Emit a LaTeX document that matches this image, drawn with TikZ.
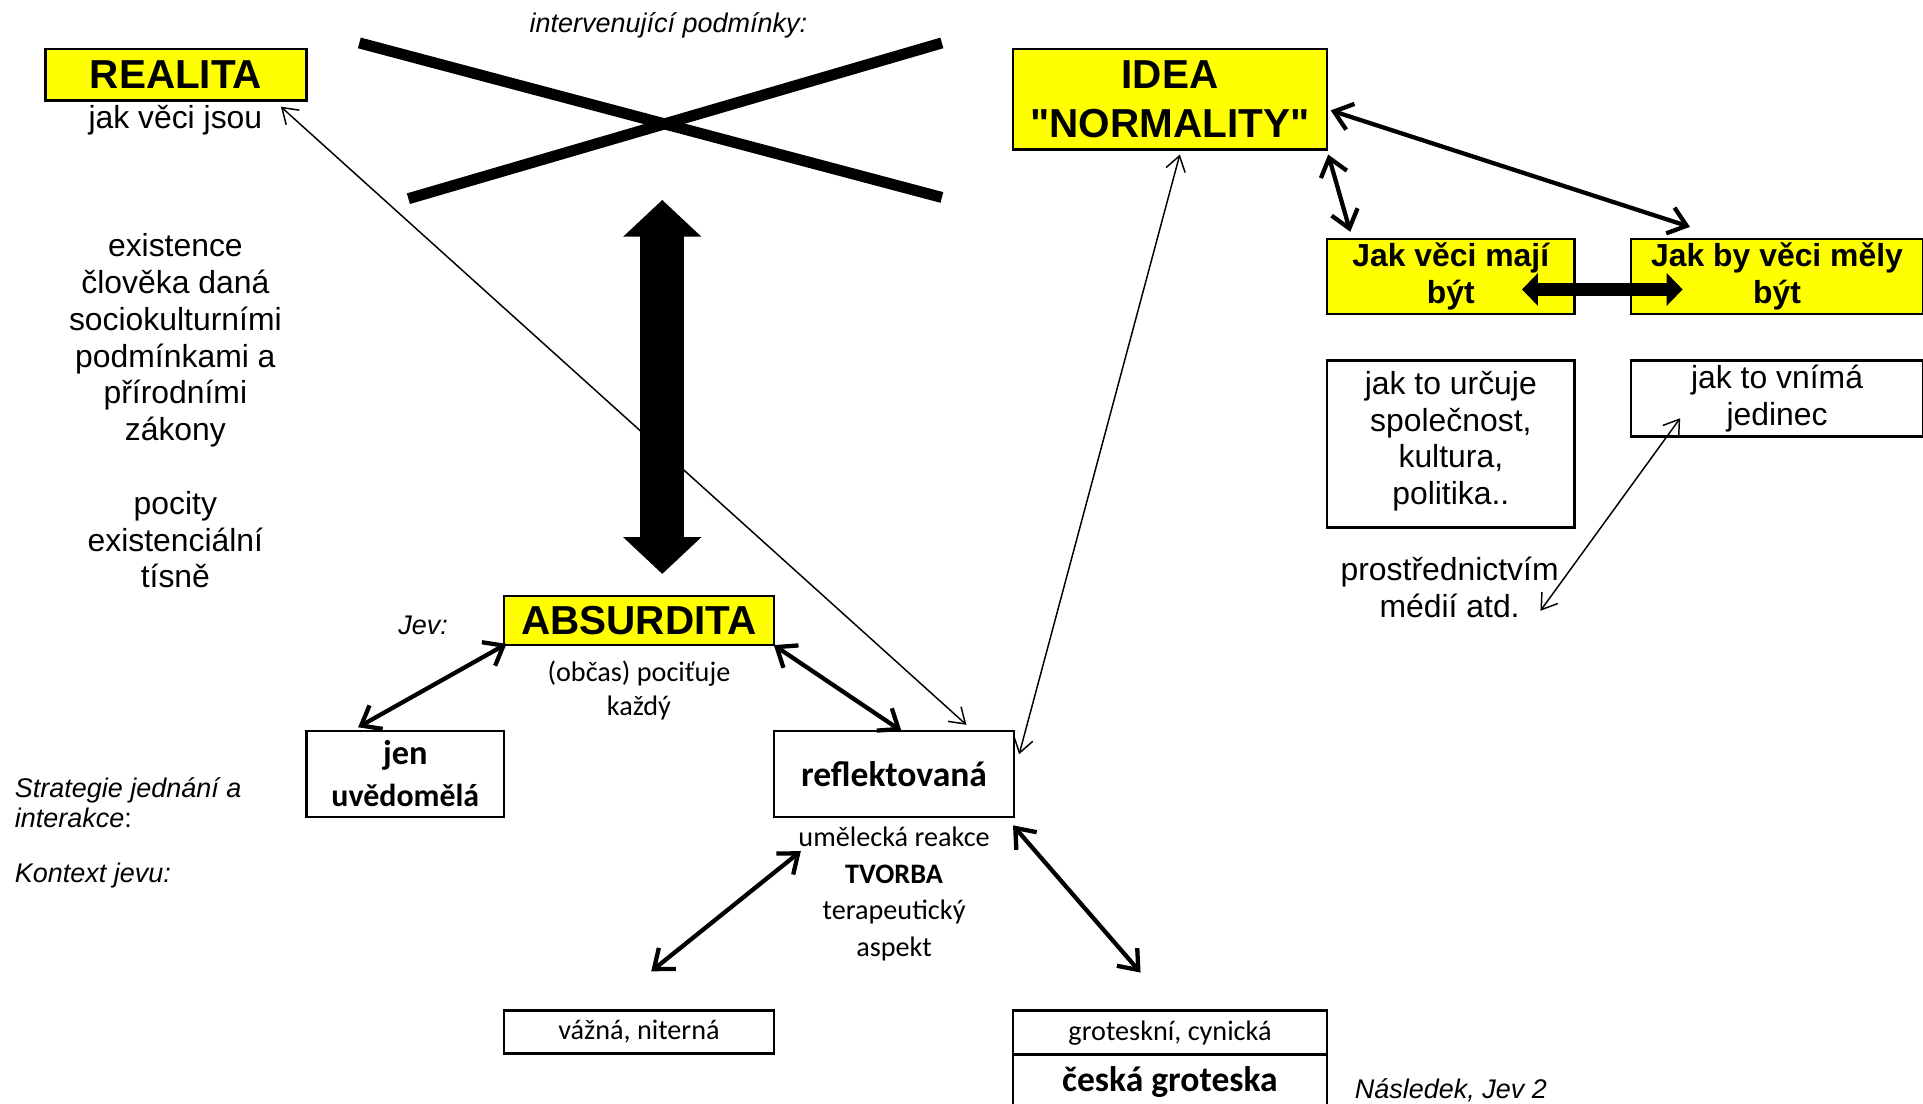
\documentclass[tikz,border=0pt]{standalone}
\usepackage{fontspec}
\setmainfont{Liberation Sans}[Ligatures=TeXOff]
\newfontfamily\calfont{Carlito}
\usetikzlibrary{arrows.meta,positioning,calc}
\definecolor{absYellow}{HTML}{FFFF00}
\newcommand{\fsz}[2]{\fontsize{#1}{#2}\selectfont}

\begin{document}
\begin{tikzpicture}[x=1pt, y=-1pt,
    every node/.style={inner sep=0pt, align=center},
    ybox/.style={draw, line width=2pt, fill=absYellow, font=\bfseries\fsz{33}{40}},
    wbox/.style={draw, line width=2pt, fill=white},
    txt/.style={font=\fsz{26}{30}},
    itxt/.style={font=\itshape\fsz{22}{25}},
    ctxt/.style={font=\calfont\fsz{23}{29}},
    thinarr/.style={{Straight Barb[length=12pt,width=16pt]}-{Straight Barb[length=12pt,width=16pt]}, line width=1.2pt},
    thickarr/.style={{Straight Barb[length=14pt,width=22pt]}-{Straight Barb[length=14pt,width=22pt]}, line width=3.5pt},
  ]
  \useasboundingbox (0,0) rectangle (1568,900);

  % top row
  \node[ybox, minimum width=213pt, minimum height=42pt] (realita) at (143.5,61) {REALITA};
  \node[txt] (jsou) at (143,98) {jak věci jsou};
  \node[itxt] (interv) at (545,21) {intervenující podmínky:};
  \node[ybox, minimum width=256pt, minimum height=82pt] (idea) at (954,81) {IDEA\\"NORMALITY"};

  \coordinate (xa) at (293,35);
  \coordinate (xb) at (768,161);
  \coordinate (xc) at (333,162);
  \coordinate (xd) at (768,35);
  \draw[line width=9pt] (xa) -- (xb);
  \draw[line width=9pt] (xc) -- (xd);

  \node[txt] (exist) at (143,335) {existence\\člověka daná\\sociokulturními\\podmínkami a\\přírodními\\zákony\\[30pt]pocity\\existenciální\\tísně};

  % right side
  \node[ybox, font=\bfseries\fsz{26}{30}, minimum width=202pt, minimum height=61pt] (jakmaji) at (1183,225.5) {Jak věci mají\\být};
  \node[ybox, font=\bfseries\fsz{26}{30}, minimum width=238pt, minimum height=61pt] (jakby) at (1449,225.5) {Jak by věci měly\\být};
  \node[wbox, txt, minimum width=202pt, minimum height=136pt] (urcuje) at (1183,362) {jak to určuje\\společnost,\\kultura,\\politika..\\[-20pt]};
  \node[wbox, txt, minimum width=238pt, minimum height=62pt] (vnima) at (1449,325) {jak to vnímá\\jedinec};
  \node[txt] (prostred) at (1182,479) {prostřednictvím\\médií atd.};

  % middle
  \node[itxt] (jev) at (345,510) {Jev:};
  \node[ybox, minimum width=220pt, minimum height=40pt] (absurd) at (521,506) {ABSURDITA};
  \node[ctxt, font=\calfont\fsz{23}{28}] (obcas) at (521,563) {(občas) pociťuje\\každý};
  \node[wbox, font=\calfont\bfseries\fsz{26}{34}, minimum width=161pt, minimum height=70pt] (jen) at (330.5,631) {{\fsz{28}{34}jen}\\uvědomělá};
  \node[wbox, font=\calfont\bfseries\fsz{29}{34}, minimum width=196pt, minimum height=70pt] (reflekt) at (729,631) {reflektovaná};
  \node[ctxt, font=\calfont\fsz{23}{30}] (umel) at (729,729) {umělecká reakce\\\textbf{TVORBA}\\terapeutický\\aspekt};

  \node[itxt, anchor=west, align=left] (strat) at (12,654.5) {Strategie jednání a\\interakce{\upshape :}};
  \node[itxt, anchor=west] (kontext) at (12,714) {Kontext jevu:};

  % bottom
  \node[wbox, ctxt, minimum width=220pt, minimum height=35pt] (vazna) at (521,841.5) {vážná, niterná};
  \node[wbox, ctxt, minimum width=256pt, minimum height=36pt] (grot) at (954,842) {groteskní, cynická};
  \node[wbox, font=\calfont\bfseries\fsz{29}{34}, minimum width=256pt, minimum height=44pt] (ceska) at (954,882) {česká groteska};
  \node[itxt] (nasl) at (1183,889) {Následek, Jev 2};

  % connectors
  \coordinate (bigtop) at (540,163);
  \coordinate (bigbot) at (540,468);
  \draw[line width=36pt, {Triangle[length=30pt,width=62pt]}-{Triangle[length=30pt,width=62pt]}] (bigtop) -- (bigbot);
  \draw[line width=11pt, {Triangle[length=13pt,width=26pt]}-{Triangle[length=13pt,width=26pt]}]
    ([xshift=-44pt,yshift=-10.5pt]jakmaji.east) -- ([xshift=43pt,yshift=-10.5pt]jakby.west);

  \draw[thinarr] ([xshift=-22pt,yshift=-4pt]realita.south east) -- ([xshift=-40pt,yshift=4pt]reflekt.north east);
  \draw[thinarr] ([xshift=8pt,yshift=-3pt]idea.south) -- ([xshift=3pt,yshift=16pt]reflekt.east);
  \draw[thickarr] ([xshift=2pt,yshift=-9pt]idea.east) -- ([xshift=-71pt,yshift=9pt]jakby.north);
  \draw[thickarr] ([yshift=-3pt]idea.south east) -- ([xshift=20pt,yshift=5pt]jakmaji.north west);
  \draw[thinarr] ([xshift=-79pt,yshift=16pt]vnima.south) -- ([xshift=-15pt,yshift=-19pt]prostred.east);
  \draw[thickarr] ([xshift=3pt,yshift=2pt]absurd.south west) -- ([xshift=-38.5pt,yshift=2pt]jen.north);
  \draw[thickarr] ([xshift=-1pt,yshift=1pt]absurd.south east) -- ([xshift=6pt,yshift=-1pt]reflekt.north);
  \draw[thickarr] ([xshift=-76pt,yshift=-27pt]reflekt.south) -- ([xshift=10pt,yshift=31pt]vazna.north);
  \draw[thickarr] ([xshift=-2pt,yshift=-6pt]reflekt.south east) -- ([xshift=-24pt,yshift=30pt]grot.north);
\end{tikzpicture}
\end{document}
